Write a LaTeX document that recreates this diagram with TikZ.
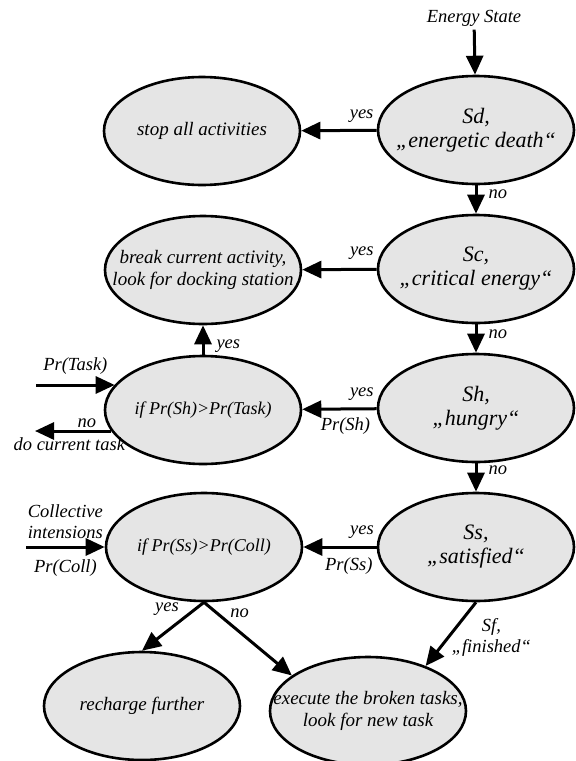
\documentclass[tikz,border=0pt]{standalone}
\usepackage{fontspec}
\setmainfont{Liberation Serif}
\usetikzlibrary{shapes.geometric, positioning, arrows.meta}
\tikzset{->,>={Triangle[length=19pt,width=17pt]},
  oval/.style={ellipse, draw, fill=black!10, line width=2.6pt, minimum width=196pt,
    minimum height=108pt, inner xsep=-28pt, inner ysep=0pt, align=center,
    font=\fontsize{19}{22}\selectfont\itshape},
  big/.style={font=\fontsize{22}{24}\selectfont\itshape},
  cmp/.style={font=\fontsize{18}{21}\selectfont\itshape},
  lbl/.style={inner sep=2pt, align=center, font=\fontsize{18.5}{21}\selectfont\itshape}}

\begin{document}
\begin{tikzpicture}[x=1pt,y=-1pt,line width=3pt]
\useasboundingbox (0,0) rectangle (576,761);

\node[oval, big] (sd) at (476,130) {Sd,\\„energetic death“};
\node[oval] (stop) at (202,131) {stop all activities};
\node[oval, big] (sc) at (476,269) {Sc,\\„critical energy“};
\node[oval] (brk) at (203,270) {break current activity,\\look for docking station};
\node[oval, big] (sh) at (476,408) {Sh,\\„hungry“};
\node[oval, cmp] (ifsh) at (203,410) {if Pr(Sh)>Pr(Task)};
\node[oval, big] (ss) at (476,547) {Ss,\\„satisfied“};
\node[oval, cmp] (ifss) at (204,547) {if Pr(Ss)>Pr(Coll)};
\node[oval] (rch) at (142,706) {recharge further};
\node[oval] (exe) at (368,711) {execute the broken tasks,\\look for new task};

\node[lbl] (es) at (474,18) {Energy State};
\coordinate (tin) at (36,385);
\coordinate (tout) at (35,431);
\coordinate (cin) at (26,547);

\path
(es) edge (sd)
(sd) edge node[lbl, above=4pt, pos=0.2]{yes} (stop)
(sd) edge node[lbl, right=9pt, pos=0.3]{no} (sc)
(sc) edge node[lbl, above=6pt, pos=0.2]{yes} (brk)
(sc) edge node[lbl, right=9pt, pos=0.35]{no} (sh)
(sh) edge node[lbl, above=5pt, pos=0.2]{yes} node[lbl, below=5pt, pos=0.42]{Pr(Sh)} (ifsh)
(ifsh) edge node[lbl, right=10pt, pos=0.3]{yes} (brk)
(tin) edge node[lbl, above=7pt]{Pr(Task)} (tin -| ifsh.164)
(tout -| ifsh.193) edge node[lbl, above, pos=0.32]{no} node[lbl, below=3pt, pos=0.55]{do current task} (tout)
(sh) edge node[lbl, right=9pt, pos=0.25]{no} (ss)
(ss) edge node[lbl, above=5pt, pos=0.2]{yes} node[lbl, below=7pt, pos=0.38]{Pr(Ss)} (ifss)
(cin) edge node[lbl, above=5pt]{Collective\\intensions} node[lbl, below=9pt]{Pr(Coll)} (ifss)
(ifss.south) edge node[lbl, above left, pos=0.35]{yes} (rch.north)
(ifss.south) edge node[lbl, above right, pos=0.26]{no} (exe.155)
(ss.south) edge node[lbl, right, pos=0.55]{Sf,\\„finished“} (exe.38);
\end{tikzpicture}
\end{document}
